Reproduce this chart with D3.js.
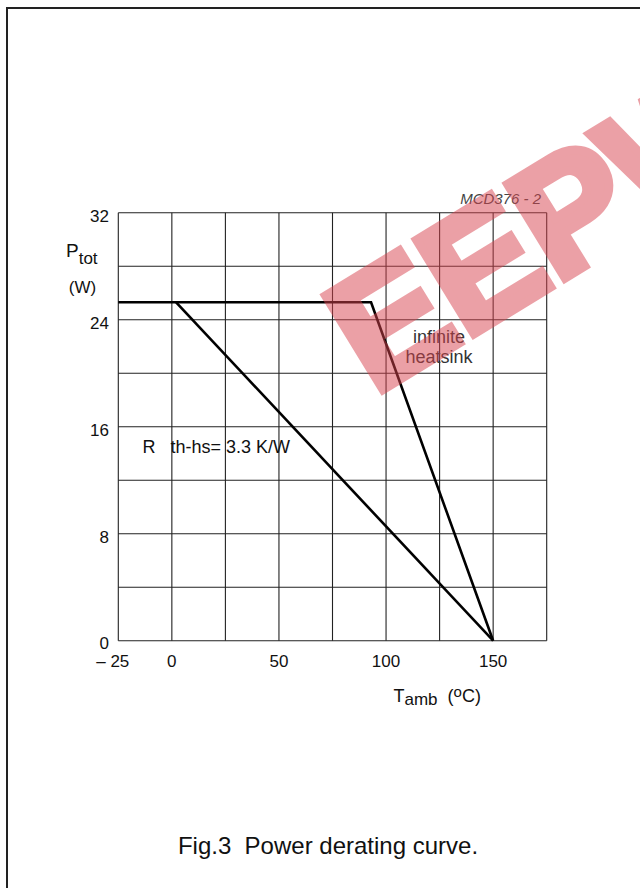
<!DOCTYPE html>
<html>
<head>
<meta charset="utf-8">
<script src="https://cdn.jsdelivr.net/npm/d3@7"></script>
<style>
  body { margin: 0; background: #fff; }
  text { font-family: "Liberation Sans", Arial, sans-serif; fill: #111; white-space: pre; }
</style>
</head>
<body>
<svg id="chart" width="640" height="888"></svg>
<script>
// temperature ticks (degC) and power ticks (W)
var x_ticks = [-25, 0, 50, 100, 150];
var x_grid = [-25, 0, 25, 50, 75, 100, 125, 150, 175];
var y_ticks = [0, 8, 16, 24, 32];
var y_grid = [0, 4, 8, 12, 16, 20, 24, 28, 32];

// derating curves: [Tamb, Ptot]
var infinite_heatsink = [[-25, 25.3], [93, 25.3], [150, 0]];
var rth_3_3 = [[2, 25.3], [150, 0]];

var svg = d3.select("#chart");

// outer frame
svg.append("rect")
  .attr("x", 7).attr("y", 8)
  .attr("width", 700).attr("height", 1000)
  .attr("fill", "none")
  .attr("stroke", "#222")
  .attr("stroke-width", 2);

var x = d3.scaleLinear().domain([-25, 175]).range([118.3, 546.7]);
var y = d3.scaleLinear().domain([0, 32]).range([640.7, 212.7]);

var plot = svg.append("g");

plot.selectAll("line.vgrid")
  .data(x_grid)
  .enter()
  .append("line")
  .attr("class", "vgrid")
  .attr("x1", function(d) { return x(d); })
  .attr("x2", function(d) { return x(d); })
  .attr("y1", y(0))
  .attr("y2", y(32))
  .attr("stroke", "#222")
  .attr("stroke-width", 1.1);

plot.selectAll("line.hgrid")
  .data(y_grid)
  .enter()
  .append("line")
  .attr("class", "hgrid")
  .attr("x1", x(-25))
  .attr("x2", x(175))
  .attr("y1", function(d) { return y(d); })
  .attr("y2", function(d) { return y(d); })
  .attr("stroke", "#222")
  .attr("stroke-width", 1.1);

// tick labels
plot.selectAll("text.ytick")
  .data(y_ticks)
  .enter()
  .append("text")
  .attr("class", "ytick")
  .attr("x", 109)
  .attr("y", function(d) { return y(d) + (d == 0 ? 8 : 9); })
  .attr("text-anchor", "end")
  .style("font-size", "17px")
  .text(function(d) { return d; });

plot.selectAll("text.xtick")
  .data(x_ticks)
  .enter()
  .append("text")
  .attr("class", "xtick")
  .attr("x", function(d) { return d < 0 ? x(d) + 11 : x(d); })
  .attr("y", 667)
  .attr("text-anchor", function(d) { return d < 0 ? "end" : "middle"; })
  .style("font-size", "17px")
  .text(function(d) { return d < 0 ? "\u2013 " + Math.abs(d) : d; });

// curves
var line = d3.line()
  .x(function(d) { return x(d[0]); })
  .y(function(d) { return y(d[1]); });

[infinite_heatsink, rth_3_3].forEach(function(series) {
  plot.append("path")
    .datum(series)
    .attr("d", line)
    .attr("fill", "none")
    .attr("stroke", "#000")
    .attr("stroke-width", 2.6)
    .attr("stroke-linejoin", "miter");
});

// axis titles
var ptot = svg.append("text").attr("x", 66).attr("y", 256.7).style("font-size", "19px");
ptot.append("tspan").text("P");
ptot.append("tspan").attr("dy", 7).style("font-size", "17px").text("tot");

svg.append("text")
  .attr("x", 82.5).attr("y", 293)
  .attr("text-anchor", "middle")
  .style("font-size", "17px")
  .text("(W)");

var tamb = svg.append("text").attr("x", 393.5).attr("y", 701.7).style("font-size", "18px");
tamb.append("tspan").text("T");
tamb.append("tspan").attr("dy", 3.5).style("font-size", "17px").text("amb");
tamb.append("tspan").attr("dy", -3.5).text("  (");
tamb.append("tspan").attr("dy", -5).style("font-size", "15px").text("o");
tamb.append("tspan").attr("dy", 5).text("C)");

// annotations
var rth = svg.append("text").attr("x", 142.5).attr("y", 453.3).style("font-size", "18px");
rth.append("tspan").text("R");
rth.append("tspan").attr("x", 170.5).text("th-hs= 3.3 K/W");

svg.append("text")
  .attr("x", 439).attr("y", 343.3)
  .attr("text-anchor", "middle")
  .style("font-size", "18px")
  .style("fill", "#333")
  .text("infinite");
svg.append("text")
  .attr("x", 439).attr("y", 362.7)
  .attr("text-anchor", "middle")
  .style("font-size", "18px")
  .style("fill", "#333")
  .text("heatsink");

svg.append("text")
  .attr("x", 541).attr("y", 204)
  .attr("text-anchor", "end")
  .style("font-size", "15px")
  .style("font-style", "italic")
  .style("fill", "#444")
  .text("MCD376 - 2");

svg.append("text")
  .attr("x", 328).attr("y", 854.3)
  .attr("text-anchor", "middle")
  .style("font-size", "24px")
  .text("Fig.3  Power derating curve.");

// watermark on top
svg.append("text")
  .attr("transform", "translate(386,388) rotate(-31.5)")
  .attr("x", -14)
  .style("font-size", "160px")
  .style("font-weight", "bold")
  .style("fill", "#d9444f")
  .style("stroke", "#d9444f")
  .style("stroke-width", 9)
  .style("stroke-linejoin", "miter")
  .style("opacity", 0.5)
  .text("EEPW");
</script>
</body>
</html>
